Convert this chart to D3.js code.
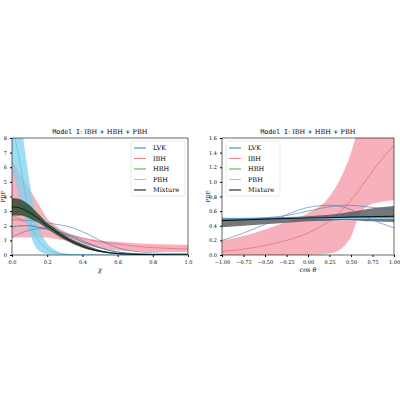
<!DOCTYPE html><html><head><script src="https://cdn.jsdelivr.net/npm/d3@7"></script>
<style>body{margin:0;background:#fff}text{font-family:"DejaVu Serif",serif}</style></head><body><svg id="c" width="400" height="400"></svg>
<script>
const chiX=[0,0.05,0.1,0.15,0.2,0.25,0.3,0.4,0.5,0.6,0.7,0.8,0.9,1.0];
const mixMed=[3.3,3.2,2.9,2.5,2.0,1.6,1.2,0.6,0.25,0.1,0.04,0.02,0.01,0];
const mixLo=[2.7,2.7,2.5,2.2,1.8,1.4,1.05,0.5,0.2,0.07,0.02,0.01,0,0];
const mixHi=[3.9,3.8,3.4,2.8,2.2,1.8,1.35,0.75,0.35,0.15,0.07,0.04,0.02,0.01];
const ibhMed=[2.7,2.4,2.1,1.9,1.75,1.6,1.45,1.15,0.9,0.75,0.6,0.5,0.45,0.4];
const ibhLo=[1.2,1.2,1.2,1.2,1.2,1.1,1.0,0.7,0.45,0.3,0.25,0.2,0.2,0.2];
const ibhHi=[6.5,5.5,4.5,3.5,2.5,2.0,1.6,1.2,1.0,0.9,0.8,0.75,0.72,0.7];
const pbhMed=[9,6,2.5,1.0,0.4,0.15,0.05,0.01,0,0,0,0,0,0];
const pbhLo=[6,3.5,1.5,0.3,0.05,0.01,0,0,0,0,0,0,0,0];
const pbhHi=[12,9,5,2.0,0.8,0.3,0.1,0.03,0,0,0,0,0,0];
const lvkMed=[1.9,2.0,2.0,1.9,1.8,1.6,1.4,0.9,0.5,0.2,0.1,0.05,0.03,0.02];
const lvkA=[2.4,2.4,2.35,2.3,2.2,2.1,2.0,1.6,1.0,0.5,0.25,0.15,0.1,0.1];
const lvkB=[1.2,1.5,1.7,1.8,1.8,1.7,1.5,1.0,0.5,0.2,0.08,0.03,0.01,0.01];
const cosX=[-1,-0.75,-0.5,-0.25,0,0.25,0.4,0.5,0.6,0.75,1];
const cIbhMed=[0.05,0.08,0.13,0.2,0.3,0.47,0.62,0.75,0.9,1.15,1.5];
const cIbhLo=[0,0,0,0,0,0.02,0.1,0.25,0.55,0.7,0.75];
const cIbhHi=[0.2,0.26,0.35,0.45,0.57,0.8,1.1,1.4,1.8,2.2,2.5];
const cMixMed=[0.47,0.48,0.49,0.5,0.505,0.51,0.515,0.52,0.522,0.525,0.53];
const cMixLo=[0.38,0.4,0.42,0.44,0.46,0.47,0.48,0.48,0.47,0.46,0.45];
const cMixHi=[0.49,0.5,0.51,0.52,0.53,0.55,0.57,0.59,0.61,0.64,0.67];
const cLvkMed=[0.48,0.49,0.5,0.5,0.51,0.51,0.52,0.52,0.52,0.525,0.53];
const cLvkA=[0.2,0.3,0.42,0.55,0.65,0.68,0.66,0.62,0.56,0.48,0.37];
const cLvkB=[0.5,0.5,0.51,0.54,0.6,0.66,0.68,0.68,0.67,0.65,0.62];
const cPbh=[0.5,0.5,0.5,0.5,0.5,0.5,0.5,0.5,0.5,0.5,0.5];
const legend=[["LVK","#3f78b5"],["IBH","#ee7f8d"],["HBH","#4aa84a"],["PBH","#87cfe8"],["Mixture","#000"]];
const svg=d3.select("#c");
function panel(x0,x1,xd,yd,xt,yt,xfmt,yfmt,xlabel,data,legX,pdfX){
 const x=d3.scaleLinear().domain(xd).range([x0,x1]),y=d3.scaleLinear().domain(yd).range([255,138]);
 const g=svg.append("g");
 const cid="cl"+x0;
 g.append("clipPath").attr("id",cid).append("rect").attr("x",x0).attr("y",138).attr("width",x1-x0).attr("height",117);
 const pg=g.append("g").attr("clip-path",`url(#${cid})`);
 const area=(xs,lo,hi)=>d3.area().x((d,i)=>x(xs[i])).y0((d,i)=>y(lo[i])).y1((d,i)=>y(hi[i])).curve(d3.curveMonotoneX)(xs);
 const line=(xs,v)=>d3.line().x((d,i)=>x(xs[i])).y((d,i)=>y(v[i])).curve(d3.curveMonotoneX)(xs);
 data.forEach(s=>{
  if(s.lo) pg.append("path").attr("d",area(s.xs,s.lo,s.hi)).attr("fill",s.fill).attr("opacity",s.op);
  (s.thin||[]).forEach(t=>pg.append("path").attr("d",line(s.xs,t)).attr("fill","none").attr("stroke",s.c).attr("stroke-width",0.6));
  pg.append("path").attr("d",line(s.xs,s.med)).attr("fill","none").attr("stroke",s.c).attr("stroke-width",s.w||0.8);
 });
 g.append("g").attr("transform","translate(0,255)").call(d3.axisBottom(x).tickValues(xt).tickFormat(xfmt).tickSize(2)).call(a=>a.selectAll("text").attr("font-size",5));
 g.append("g").attr("transform",`translate(${x0},0)`).call(d3.axisLeft(y).tickValues(yt).tickFormat(yfmt).tickSize(2)).call(a=>a.selectAll("text").attr("font-size",5));
 g.selectAll(".domain").remove();
 g.append("rect").attr("x",x0).attr("y",138).attr("width",x1-x0).attr("height",117).attr("fill","none").attr("stroke","#000").attr("stroke-width",0.6);
 const t=g.append("text").attr("x",(x0+x1)/2).attr("y",134).attr("text-anchor","middle").attr("font-size",6.5);
 t.append("tspan").attr("font-family","DejaVu Sans Mono").text("Model I");
 t.append("tspan").text(": IBH + HBH + PBH");
 g.append("text").attr("x",(x0+x1)/2).attr("y",272).attr("text-anchor","middle").attr("font-size",6.5).attr("font-style","italic").text(xlabel);
 g.append("text").attr("transform",`translate(${pdfX},196.5) rotate(-90)`).attr("text-anchor","middle").attr("font-size",5.5).text("PDF");
 const lg=g.append("g");
 lg.append("rect").attr("x",legX).attr("y",141).attr("width",54).attr("height",55).attr("rx",2).attr("fill","#fff").attr("opacity",0.85).attr("stroke","#ccc").attr("stroke-width",0.5);
 legend.forEach((l,i)=>{const yy=148+i*10.5;
  lg.append("line").attr("x1",legX+3).attr("x2",legX+15).attr("y1",yy).attr("y2",yy).attr("stroke",l[1]).attr("stroke-width",1);
  lg.append("text").attr("x",legX+22).attr("y",yy+2.2).attr("font-size",6.5).text(l[0]);});
}
const f1=d3.format(".1f");
panel(12,188,[0,1],[0,8],d3.range(0,1.01,0.2),d3.range(0,9,1),f1,d3.format("d"),"χ",[
 {xs:chiX,med:ibhMed,lo:ibhLo,hi:ibhHi,fill:"#f2909f",op:0.7,c:"#ee6d7f"},
 {xs:chiX,med:pbhMed,lo:pbhLo,hi:pbhHi,fill:"#7fd3ee",op:0.75,c:"#6cc8ea",w:1},
 {xs:chiX,med:mixMed,lo:mixLo,hi:mixHi,fill:"#2f4a2f",op:0.85,c:"#4aa84a"},
 {xs:chiX,med:lvkMed,thin:[lvkA,lvkB],c:"#3f78b5"},
 {xs:chiX,med:mixMed,c:"#000",w:0.9}],131,5);
panel(222,394,[-1,1],[0,1.6],d3.range(-1,1.01,0.25),d3.range(0,1.61,0.2),d3.format(".2f"),f1,"cos θ",[
 {xs:cosX,med:cIbhMed,lo:cIbhLo,hi:cIbhHi,fill:"#f2909f",op:0.7,c:"#ee6d7f"},
 {xs:cosX,med:cMixMed,lo:cMixLo,hi:cMixHi,fill:"#555",op:0.8,c:"#4aa84a"},
 {xs:cosX,med:cPbh,c:"#87cfe8",w:1.2},
 {xs:cosX,med:cLvkMed,thin:[cLvkA,cLvkB],c:"#3f78b5",w:1},
 {xs:cosX,med:cMixMed,c:"#000",w:0.9}],226,210);
</script></body></html>
